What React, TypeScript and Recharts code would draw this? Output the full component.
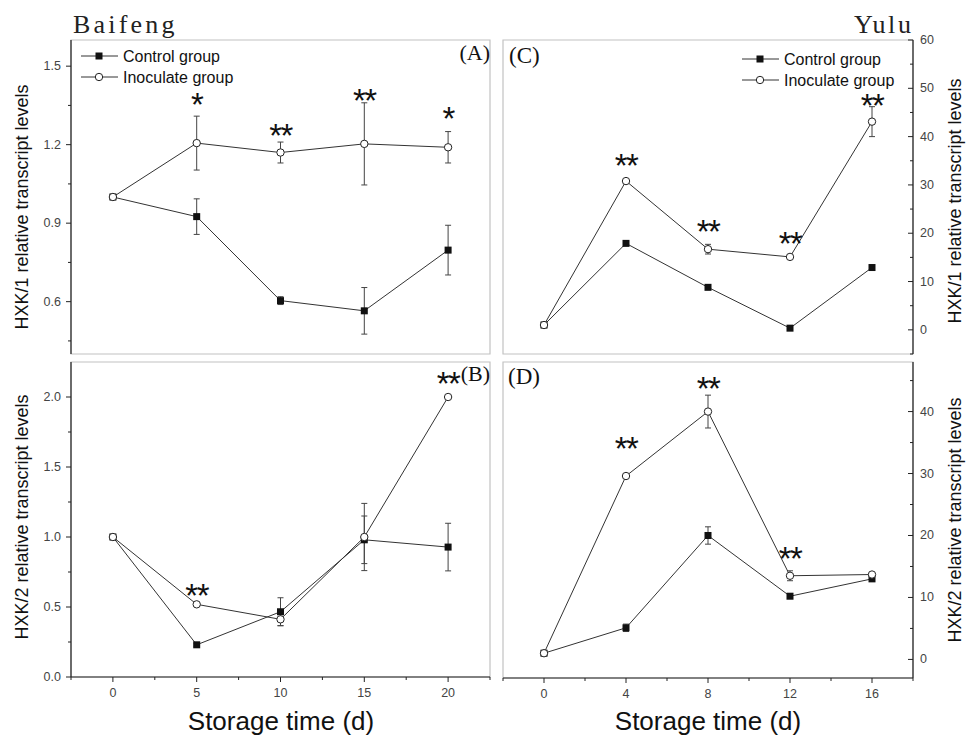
import React from 'react';
import { LineChart, Line, XAxis, YAxis, ErrorBar, ReferenceArea, Legend, LabelList } from 'recharts';

// ---------- data ----------
const daysBaifeng = [0, 5, 10, 15, 20];
const daysYulu = [0, 4, 8, 12, 16];

// (A) Baifeng HXK/1
const aControl = [1.0, 0.925, 0.604, 0.565, 0.797];
const aControlErr = [0, 0.068, 0.015, 0.089, 0.095];
const aInoculate = [1.0, 1.206, 1.17, 1.203, 1.19];
const aInoculateErr = [0, 0.103, 0.04, 0.157, 0.06];
const aSig = ['', '*', '**', '**', '*'];
const aSigY = [null, 1.383, 1.265, 1.397, 1.33];

// (B) Baifeng HXK/2
const bControl = [1.0, 0.23, 0.466, 0.98, 0.928];
const bControlErr = [0, 0.01, 0.1, 0.17, 0.17];
const bInoculate = [1.0, 0.519, 0.412, 1.0, 2.0];
const bInoculateErr = [0, 0.01, 0.045, 0.24, 0];
const bSig = ['', '**', '', '', '**'];
const bSigY = [null, 0.636, null, null, 2.15];

// (C) Yulu HXK/1
const cControl = [1.0, 17.9, 8.8, 0.35, 12.9];
const cControlErr = [0, 0.2, 0.2, 0.2, 0.2];
const cInoculate = [1.0, 30.8, 16.7, 15.1, 43.1];
const cInoculateErr = [0, 0.4, 1.0, 0.4, 3.1];
const cSig = ['', '**', '**', '**', '**'];
const cSigY = [null, 35.5, 21.9, 19.5, 48.0];

// (D) Yulu HXK/2
const dControl = [1.0, 5.1, 20.0, 10.2, 13.0];
const dControlErr = [0, 0.6, 1.4, 0.2, 0.2];
const dInoculate = [1.0, 29.6, 40.0, 13.5, 13.7];
const dInoculateErr = [0, 0.3, 2.65, 0.8, 0.2];
const dSig = ['', '**', '**', '**', ''];
const dSigY = [null, 35.3, 44.9, 17.5, null];

// ticks
const xTicksBaifeng = [-2.5, 0, 2.5, 5, 7.5, 10, 12.5, 15, 17.5, 20, 22.5];
const xMajorsBaifeng = [0, 5, 10, 15, 20];
const xTicksYulu = [-2, 0, 2, 4, 6, 8, 10, 12, 14, 16, 18];
const xMajorsYulu = [0, 4, 8, 12, 16];
const yTicksA = [0.45, 0.6, 0.75, 0.9, 1.05, 1.2, 1.35, 1.5];
const yMajorsA = [0.6, 0.9, 1.2, 1.5];
const yTicksB = [0, 0.25, 0.5, 0.75, 1.0, 1.25, 1.5, 1.75, 2.0];
const yMajorsB = [0, 0.5, 1.0, 1.5, 2.0];
const yTicksC = [-5, 0, 5, 10, 15, 20, 25, 30, 35, 40, 45, 50, 55, 60];
const yMajorsC = [0, 10, 20, 30, 40, 50, 60];
const yTicksD = [0, 5, 10, 15, 20, 25, 30, 35, 40, 45];
const yMajorsD = [0, 10, 20, 30, 40];

const seriesNames = { control: 'Control group', inoc: 'Inoculate group' };

const buildRows = (days: number[], c: number[], ce: number[], n: number[], ne: number[], sig: string[], sigY: (number | null)[]) =>
  days.map((d, i) => ({ day: d, control: c[i], controlErr: ce[i], inoc: n[i], inocErr: ne[i], sig: sig[i], sigY: sigY[i] }));

const rowsA = buildRows(daysBaifeng, aControl, aControlErr, aInoculate, aInoculateErr, aSig, aSigY);
const rowsB = buildRows(daysBaifeng, bControl, bControlErr, bInoculate, bInoculateErr, bSig, bSigY);
const rowsC = buildRows(daysYulu, cControl, cControlErr, cInoculate, cInoculateErr, cSig, cSigY);
const rowsD = buildRows(daysYulu, dControl, dControlErr, dInoculate, dInoculateErr, dSig, dSigY);

// ---------- styling helpers ----------
const SANS = '"Liberation Sans", Arial, sans-serif';
const SERIF = '"Liberation Serif", "Times New Roman", serif';
const AXIS = '#222';
const TICKTXT = '#444';

const isMajor = (majors: number[], v: number) => majors.some((m) => Math.abs(m - v) < 1e-9);

const makeTick = (side: 'left' | 'right' | 'bottom', majors: number[], fmt: (v: number) => string) => (props: any) => {
  const { x, y, payload } = props;
  const v = payload.value;
  const major = isMajor(majors, v);
  const len = major ? 5 : 3;
  if (side === 'left') {
    return (
      <g>
        <line x1={x - len} x2={x} y1={y} y2={y} stroke={AXIS} strokeWidth={1} />
        {major && (
          <text x={x - 10} y={y} textAnchor="end" dominantBaseline="central" fontSize={12.5} fontFamily={SANS} fill={TICKTXT}>
            {fmt(v)}
          </text>
        )}
      </g>
    );
  }
  if (side === 'right') {
    return (
      <g>
        <line x1={x - len} x2={x} y1={y} y2={y} stroke={AXIS} strokeWidth={1} />
        {major && (
          <text x={x + 7} y={y} textAnchor="start" dominantBaseline="central" fontSize={12.5} fontFamily={SANS} fill={TICKTXT}>
            {fmt(v)}
          </text>
        )}
      </g>
    );
  }
  return (
    <g>
      <line x1={x} x2={x} y1={y} y2={y + len} stroke={AXIS} strokeWidth={1} />
      {major && (
        <text x={x} y={y + 16} textAnchor="middle" dominantBaseline="central" fontSize={12.5} fontFamily={SANS} fill={TICKTXT}>
          {fmt(v)}
        </text>
      )}
    </g>
  );
};

const SquareDot = (p: any) => {
  if (p.cx == null || p.cy == null) return <g key={p.key} />;
  return <rect key={p.key} x={p.cx - 3.5} y={p.cy - 3.5} width={7} height={7} fill="#111" />;
};
const CircleDot = (p: any) => {
  if (p.cx == null || p.cy == null) return <g key={p.key} />;
  return <circle key={p.key} cx={p.cx} cy={p.cy} r={3.7} fill="#fff" stroke="#222" strokeWidth={1} />;
};

const StarLabel = (p: any) => {
  const { x, y, value } = p;
  if (!value || x == null || y == null) return null;
  return (
    <text x={x} y={y + 19} textAnchor="middle" fontSize={33} letterSpacing={-1.5} fontFamily={SANS} fill="#111">
      {value}
    </text>
  );
};

const LegendContent = (props: any) => {
  const items = (props.payload || []).filter((p: any) => p.dataKey === 'control' || p.dataKey === 'inoc');
  return (
    <svg width={200} height={44} style={{ display: 'block' }}>
      {items.map((p: any, i: number) => {
        const cy = 11 + 21 * i;
        return (
          <g key={String(p.dataKey)}>
            <line x1={3} x2={40} y1={cy} y2={cy} stroke="#333" strokeWidth={1} />
            {p.dataKey === 'control' ? (
              <rect x={21 - 3.5} y={cy - 3.5} width={7} height={7} fill="#111" />
            ) : (
              <circle cx={21} cy={cy} r={3.7} fill="#fff" stroke="#222" />
            )}
            <text x={45} y={cy} dominantBaseline="central" fontSize={16} fontFamily={SANS} fill="#111">
              {p.value}
            </text>
          </g>
        );
      })}
    </svg>
  );
};

type PanelProps = {
  rows: any[];
  margin: { top: number; right: number; bottom: number; left: number };
  xDomain: [number, number];
  xTicks: number[];
  xMajors: number[];
  showX: boolean;
  yDomain: [number, number];
  yTicks: number[];
  yMajors: number[];
  yFmt: (v: number) => string;
  ySide: 'left' | 'right';
  legendPos?: { left: number; top: number };
};

const Panel = (pp: PanelProps) => (
  <div style={{ position: 'absolute', left: 0, top: 0 }}>
    <LineChart width={966} height={737} data={pp.rows} margin={pp.margin}>
      <ReferenceArea
        x1={pp.xDomain[0]}
        x2={pp.xDomain[1]}
        y1={pp.yDomain[0]}
        y2={pp.yDomain[1]}
        fill="none"
        stroke="#c2c2c2"
        strokeWidth={1.2}
        ifOverflow="visible"
      />
      <XAxis
        type="number"
        dataKey="day"
        domain={pp.xDomain}
        ticks={pp.xTicks}
        interval={0}
        height={30}
        allowDataOverflow
        axisLine={pp.showX ? { stroke: AXIS, strokeWidth: 1.2 } : false}
        tickLine={false}
        tickSize={0}
        tickMargin={0}
        tick={pp.showX ? makeTick('bottom', pp.xMajors, (v) => String(v)) : false}
      />
      <YAxis
        type="number"
        orientation={pp.ySide}
        width={30}
        domain={pp.yDomain}
        ticks={pp.yTicks}
        interval={0}
        allowDataOverflow
        axisLine={{ stroke: AXIS, strokeWidth: 1.2 }}
        tickLine={false}
        tickSize={0}
        tickMargin={0}
        tick={makeTick(pp.ySide, pp.yMajors, pp.yFmt)}
      />
      <Line dataKey="control" name={seriesNames.control} stroke="#333" strokeWidth={1} dot={SquareDot} activeDot={false} isAnimationActive={false}>
        <ErrorBar dataKey="controlErr" width={3} stroke="#444" strokeWidth={1} isAnimationActive={false} />
      </Line>
      <Line dataKey="inoc" name={seriesNames.inoc} stroke="#333" strokeWidth={1} dot={CircleDot} activeDot={false} isAnimationActive={false}>
        <ErrorBar dataKey="inocErr" width={3} stroke="#444" strokeWidth={1} isAnimationActive={false} />
      </Line>
      <Line dataKey="sigY" legendType="none" stroke="none" dot={false} activeDot={false} isAnimationActive={false}>
        <LabelList dataKey="sig" content={StarLabel} />
      </Line>
      {pp.legendPos && (
        <Legend
          layout="horizontal"
          verticalAlign="middle"
          align="center"
          content={LegendContent}
          wrapperStyle={{ left: pp.legendPos.left, top: pp.legendPos.top, width: 200, height: 44 }}
        />
      )}
    </LineChart>
  </div>
);

const fmt1 = (v: number) => v.toFixed(1);
const fmt0 = (v: number) => String(v);

export default function App() {
  return (
    <div style={{ position: 'absolute', left: 0, top: 0, width: 966, height: 737, background: '#fff', overflow: 'hidden' }}>
      <Panel
        rows={rowsA}
        margin={{ top: 40, right: 476, bottom: 353, left: 41 }}
        xDomain={[-2.5, 22.5]}
        xTicks={xTicksBaifeng}
        xMajors={xMajorsBaifeng}
        showX={false}
        yDomain={[0.4, 1.6]}
        yTicks={yTicksA}
        yMajors={yMajorsA}
        yFmt={fmt1}
        ySide="left"
        legendPos={{ left: 78, top: 45 }}
      />
      <Panel
        rows={rowsB}
        margin={{ top: 362, right: 476, bottom: 30, left: 41 }}
        xDomain={[-2.5, 22.5]}
        xTicks={xTicksBaifeng}
        xMajors={xMajorsBaifeng}
        showX={true}
        yDomain={[0, 2.25]}
        yTicks={yTicksB}
        yMajors={yMajorsB}
        yFmt={fmt1}
        ySide="left"
      />
      <Panel
        rows={rowsC}
        margin={{ top: 40, right: 23, bottom: 353, left: 503 }}
        xDomain={[-2, 18]}
        xTicks={xTicksYulu}
        xMajors={xMajorsYulu}
        showX={false}
        yDomain={[-5, 60]}
        yTicks={yTicksC}
        yMajors={yMajorsC}
        yFmt={fmt0}
        ySide="right"
        legendPos={{ left: 739, top: 48 }}
      />
      <Panel
        rows={rowsD}
        margin={{ top: 362, right: 23, bottom: 29, left: 503 }}
        xDomain={[-2, 18]}
        xTicks={xTicksYulu}
        xMajors={xMajorsYulu}
        showX={true}
        yDomain={[-3, 48]}
        yTicks={yTicksD}
        yMajors={yMajorsD}
        yFmt={fmt0}
        ySide="right"
      />
      <svg width={966} height={737} style={{ position: 'absolute', left: 0, top: 0, pointerEvents: 'none' }}>
        <text x={73} y={33} fontSize={26} letterSpacing={3.2} fontFamily={SERIF} fill="#222">Baifeng</text>
        <text x={854} y={33} fontSize={26} letterSpacing={2.6} fontFamily={SERIF} fill="#222">Yulu</text>
        <text x={490} y={60} textAnchor="end" fontSize={22} fontFamily={SERIF} fill="#111">(A)</text>
        <text x={490} y={381} textAnchor="end" fontSize={22} fontFamily={SERIF} fill="#111">(B)</text>
        <text x={509} y={63} fontSize={23} fontFamily={SERIF} fill="#111">(C)</text>
        <text x={508} y={384} fontSize={23} fontFamily={SERIF} fill="#111">(D)</text>
        <text x={22} y={207} transform="rotate(-90 22 207)" textAnchor="middle" dominantBaseline="central" fontSize={18} fontFamily={SANS} fill="#111">HXK/1 relative transcript levels</text>
        <text x={22} y={517} transform="rotate(-90 22 517)" textAnchor="middle" dominantBaseline="central" fontSize={18} fontFamily={SANS} fill="#111">HXK/2 relative transcript levels</text>
        <text x={955} y={201} transform="rotate(-90 955 201)" textAnchor="middle" dominantBaseline="central" fontSize={18} fontFamily={SANS} fill="#111">HXK/1 relative transcript levels</text>
        <text x={955} y={520} transform="rotate(-90 955 520)" textAnchor="middle" dominantBaseline="central" fontSize={18} fontFamily={SANS} fill="#111">HXK/2 relative transcript levels</text>
        <text x={281} y={730} textAnchor="middle" fontSize={26} fontFamily={SANS} fill="#111">Storage time (d)</text>
        <text x={708} y={730} textAnchor="middle" fontSize={26} fontFamily={SANS} fill="#111">Storage time (d)</text>
      </svg>
    </div>
  );
}
